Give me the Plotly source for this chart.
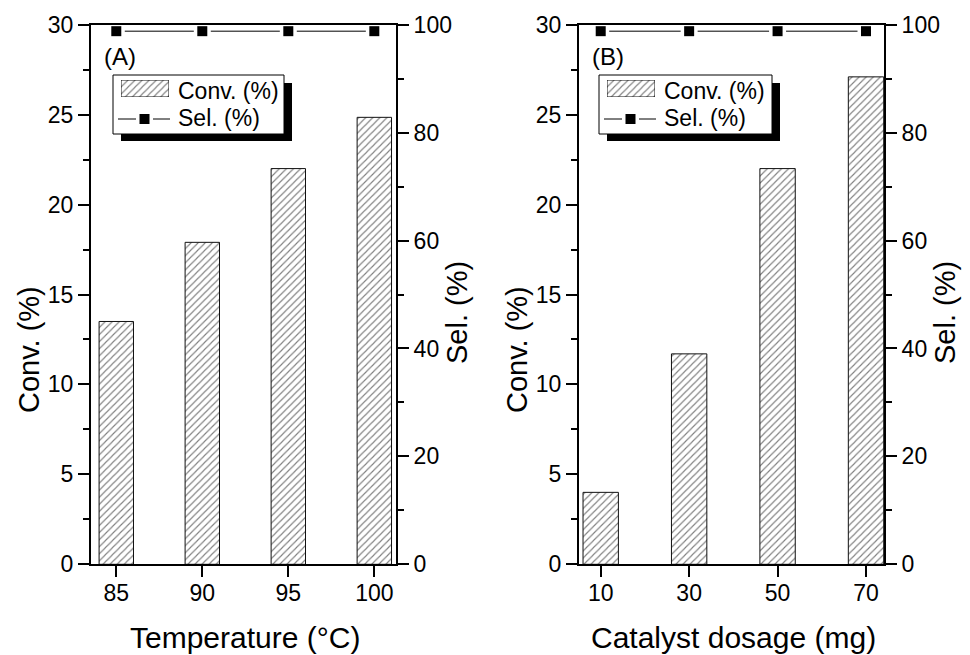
import plotly.graph_objects as go

# ---- data -------------------------------------------------------------
temperature = [85, 90, 95, 100]            # reaction temperature, °C
conv_temperature = [13.5, 17.9, 22.0, 24.85]  # conversion, %
sel_temperature = [98.8, 98.8, 98.8, 98.8]    # selectivity, %

dosage = [10, 30, 50, 70]                  # catalyst dosage, mg
conv_dosage = [4.0, 11.7, 22.0, 27.1]      # conversion, %
sel_dosage = [98.8, 98.8, 98.8, 98.8]      # selectivity, %

conv_ticks = [0, 5, 10, 15, 20, 25, 30]
sel_ticks = [0, 20, 40, 60, 80, 100]

# ---- page geometry (pixels -> paper fractions) ------------------------
W, H = 970, 655
FONT = "Liberation Sans, Arial, sans-serif"


def fx(px):
    return px / W


def fy(py):
    return 1 - py / H


PLOT_TOP, PLOT_BOTTOM = 24.7, 564.3

panels = [
    dict(name="A", x=temperature, conv=conv_temperature, sel=sel_temperature,
         bar_width=2, xrange=[83.53, 101.26], left=91, right=396,
         xtitle="Temperature (°C)", legend_left=113, legend_right=284),
    dict(name="B", x=dosage, conv=conv_dosage, sel=sel_dosage,
         bar_width=8, xrange=[5.09, 74.07], left=579, right=884,
         xtitle="Catalyst dosage (mg)", legend_left=599, legend_right=772),
]

hatch = dict(shape="/", size=5, solidity=0.22, fgcolor="black", bgcolor="white")
bar_line = dict(color="#111111", width=1)

axis_common = dict(
    showline=True, linecolor="black", linewidth=2,
    ticks="outside", ticklen=11, tickwidth=2, tickcolor="black",
    showgrid=False, zeroline=False, automargin=False,
    tickfont=dict(family=FONT, size=23, color="black"),
)

fig = go.Figure()
layout = dict(
    width=W, height=H,
    margin=dict(l=0, r=0, t=0, b=0, autoexpand=False),
    paper_bgcolor="white", plot_bgcolor="rgba(0,0,0,0)",
    showlegend=False,
    font=dict(family=FONT, color="black"),
    shapes=[], annotations=[],
)

for i, p in enumerate(panels):
    n = 2 * i + 1                    # x axis / left y axis index
    xa, ya, ya2 = f"x{n if n > 1 else ''}", f"y{n if n > 1 else ''}", f"y{n + 1}"
    sw = 5 + i                       # legend swatch axes index
    xdom = [fx(p["left"]), fx(p["right"])]
    ydom = [fy(PLOT_BOTTOM), fy(PLOT_TOP)]

    # conversion bars
    fig.add_trace(go.Bar(
        x=p["x"], y=p["conv"], width=p["bar_width"],
        marker=dict(color="white", pattern=hatch, line=bar_line),
        xaxis=xa, yaxis=ya, name="Conv. (%)",
    ))
    # selectivity line, broken around each symbol, then the symbols
    fig.add_trace(go.Scatter(
        x=p["x"], y=p["sel"], mode="lines", line=dict(color="black", width=1),
        xaxis=xa, yaxis=ya2, name="Sel. (%)", cliponaxis=False,
    ))
    fig.add_trace(go.Scatter(
        x=p["x"], y=p["sel"], mode="markers",
        marker=dict(symbol="line-ns", size=6, line=dict(color="white", width=17)),
        xaxis=xa, yaxis=ya2, hoverinfo="skip", cliponaxis=False,
    ))
    fig.add_trace(go.Scatter(
        x=p["x"], y=p["sel"], mode="markers",
        marker=dict(symbol="square", size=10, color="black", line=dict(width=0)),
        xaxis=xa, yaxis=ya2, hoverinfo="skip", cliponaxis=False,
    ))

    layout[f"xaxis{n if n > 1 else ''}"] = dict(
        axis_common, domain=xdom, range=p["xrange"], anchor=ya,
        tickvals=p["x"], mirror=True, ticklabelstandoff=-4,
    )
    layout[f"yaxis{n if n > 1 else ''}"] = dict(
        axis_common, domain=ydom, range=[0, 30], anchor=xa,
        tickvals=conv_ticks,
        minor=dict(dtick=2.5, tick0=0, ticks="outside", ticklen=6,
                   tickwidth=2, tickcolor="black"),
    )
    layout[f"yaxis{n + 1}"] = dict(
        axis_common, range=[0, 100], anchor=xa, overlaying=ya, side="right",
        tickvals=sel_ticks,
        minor=dict(dtick=10, tick0=0, ticks="outside", ticklen=6,
                   tickwidth=2, tickcolor="black"),
    )

    # ---- legend box with drop shadow ----------------------------------
    L, R, T, B = p["legend_left"], p["legend_right"], 75, 134
    layout["shapes"] += [
        dict(type="rect", xref="paper", yref="paper", layer="below",
             x0=fx(L + 8), x1=fx(R + 8), y0=fy(B + 7), y1=fy(T + 8),
             fillcolor="black", line=dict(width=0)),
        dict(type="rect", xref="paper", yref="paper", layer="below",
             x0=fx(L), x1=fx(R), y0=fy(B), y1=fy(T),
             fillcolor="white", line=dict(color="black", width=1)),
        dict(type="line", xref="paper", yref="paper", layer="below",
             x0=fx(L + 5), x1=fx(L + 23), y0=fy(119), y1=fy(119),
             line=dict(color="black", width=1)),
        dict(type="line", xref="paper", yref="paper", layer="below",
             x0=fx(L + 40), x1=fx(L + 57), y0=fy(119), y1=fy(119),
             line=dict(color="black", width=1)),
        dict(type="rect", xref="paper", yref="paper", layer="below",
             x0=fx(L + 26.5), x1=fx(L + 36.5), y0=fy(124), y1=fy(114),
             fillcolor="black", line=dict(width=0)),
    ]
    # hatched legend swatch drawn as a unit bar in its own small axes
    fig.add_trace(go.Bar(
        x=[0.5], y=[1], width=1,
        marker=dict(color="white", pattern=hatch, line=bar_line),
        xaxis=f"x{sw}", yaxis=f"y{sw}", hoverinfo="skip", cliponaxis=False,
    ))
    layout[f"xaxis{sw}"] = dict(domain=[fx(L + 8), fx(L + 56)], range=[0, 1],
                                visible=False, anchor=f"y{sw}", fixedrange=True,
                                automargin=False)
    layout[f"yaxis{sw}"] = dict(domain=[fy(97), fy(80)], range=[0, 1],
                                visible=False, anchor=f"x{sw}", fixedrange=True,
                                automargin=False)

    # ---- text -----------------------------------------------------------
    off = p["left"] - 91
    layout["annotations"] += [
        dict(text="Conv. (%)", x=fx(L + 63), y=fy(91), xanchor="left",
             yanchor="middle", font=dict(size=23)),
        dict(text="Sel. (%)", x=fx(L + 63), y=fy(118), xanchor="left",
             yanchor="middle", font=dict(size=23)),
        dict(text=f"({p['name']})", x=fx(p["left"] + 11), y=fy(57),
             xanchor="left", yanchor="middle", font=dict(size=24)),
        dict(text="Conv. (%)", x=fx(29 + off), y=fy(350), textangle=-90,
             xanchor="center", yanchor="middle", font=dict(size=29)),
        dict(text="Sel. (%)", x=fx(p["right"] + 61), y=fy(313), textangle=-90,
             xanchor="center", yanchor="middle", font=dict(size=29)),
        dict(text=p["xtitle"], x=fx((p["left"] + p["right"]) / 2 + 1.5),
             y=0, xanchor="center", yanchor="bottom", borderpad=0,
             font=dict(size=30)),
    ]

for a in layout["annotations"]:
    a.update(xref="paper", yref="paper", showarrow=False)

fig.update_layout(**layout)
fig.write_html("out.html")
